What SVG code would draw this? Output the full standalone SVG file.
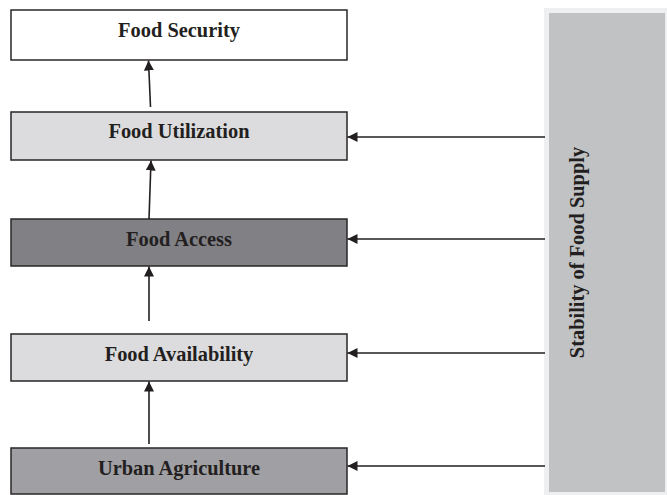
<svg xmlns="http://www.w3.org/2000/svg" width="667" height="495" viewBox="0 0 667 495">
<style>
.box{stroke:#2a2627;stroke-width:1.5}
.lbl{font-family:"Liberation Serif","Times New Roman",serif;font-weight:bold;font-size:20.4px;fill:#231f20;text-anchor:middle}
.conn{stroke:#231f20;stroke-width:1.6;fill:none;marker-end:url(#ah)}
</style>
<defs>
<marker id="ah" markerUnits="userSpaceOnUse" markerWidth="12" markerHeight="10" refX="10" refY="5" orient="auto">
<path d="M0,0 L10,5 L0,10 Z" fill="#231f20"/>
</marker>
</defs>
<rect width="667" height="495" fill="#ffffff"/>
<g id="stability">
<rect x="544" y="8" width="123" height="487" fill="#eeeff1"/>
<rect x="549" y="13" width="116" height="479" fill="#c1c2c4"/>
<text class="lbl" transform="translate(584,252.5) rotate(-90)">Stability of Food Supply</text>
</g>
<g id="food-security">
<rect class="box" x="11" y="10" width="336" height="50" fill="#ffffff"/>
<text class="lbl" x="179" y="37">Food Security</text>
</g>
<g id="food-utilization">
<rect class="box" x="11" y="112" width="336" height="48" fill="#dcdcde"/>
<text class="lbl" x="179" y="138">Food Utilization</text>
</g>
<g id="food-access">
<rect class="box" x="11" y="219" width="336" height="47" fill="#808085"/>
<text class="lbl" x="179" y="246">Food Access</text>
</g>
<g id="food-availability">
<rect class="box" x="11" y="334" width="336" height="47" fill="#dcdcde"/>
<text class="lbl" x="179" y="361">Food Availability</text>
</g>
<g id="urban-agriculture">
<rect class="box" x="11" y="448" width="336" height="46" fill="#a0a0a4"/>
<text class="lbl" x="179" y="475">Urban Agriculture</text>
</g>
<g id="connectors">
<path class="conn" d="M150.5,107 L148.5,60.5"/>
<path class="conn" d="M149,219 L151,160.5"/>
<path class="conn" d="M149,321 L149,266.5"/>
<path class="conn" d="M149,444 L149,381.5"/>
<path class="conn" d="M545,137 L347.5,137"/>
<path class="conn" d="M545,239 L347.5,239"/>
<path class="conn" d="M545,353 L347.5,353"/>
<path class="conn" d="M545,466 L347.5,466"/>
</g>
</svg>
